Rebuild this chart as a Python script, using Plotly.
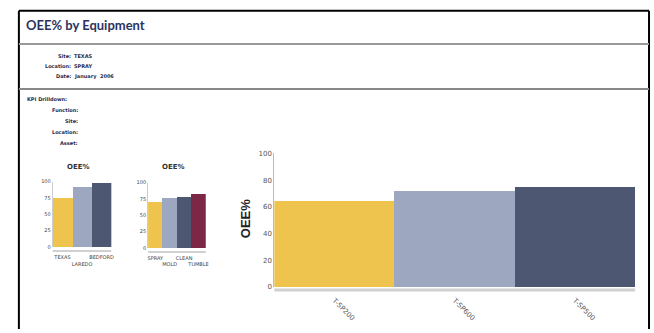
import plotly.graph_objects as go

W, H = 654, 333

# --- data ---
site_categories = ["TEXAS", "LAREDO", "BEDFORD"]
site_oee = [76, 92, 98]

location_categories = ["SPRAY", "MOLD", "CLEAN", "TUMBLE"]
location_oee = [71, 77, 78, 83]

equipment = ["T-SP200", "T-SP600", "T-SP500"]
equipment_oee = [64, 71.5, 74.5]

main_ticks = [0, 20, 40, 60, 80, 100]
small_ticks = [0, 25, 50, 75, 100]

header_labels = ["Site:", "Location:", "Date:"]
header_values = ["TEXAS", "SPRAY", "January  2006"]
drill_labels = ["Function:", "Site:", "Location:", "Asset:"]

YELLOW, LIGHT, DARK, MAROON = "#EEC44E", "#9DA7C0", "#4E5772", "#7C2745"
NAVY = "#2B3461"


def px(x):
    return x / W


def py(y):
    return 1 - y / H


def stagger(cats):
    # every second label drops one line, as in the reference
    return [c if i % 2 == 0 else "<br>" + c for i, c in enumerate(cats)]


fig = go.Figure()

fig.add_trace(go.Bar(x=site_categories, y=site_oee, marker=dict(color=[YELLOW, LIGHT, DARK], line_width=0),
                     xaxis="x2", yaxis="y2", showlegend=False))
fig.add_trace(go.Bar(x=location_categories, y=location_oee,
                     marker=dict(color=[YELLOW, LIGHT, DARK, MAROON], line_width=0),
                     xaxis="x3", yaxis="y3", showlegend=False))
fig.add_trace(go.Bar(x=equipment, y=equipment_oee, marker=dict(color=[YELLOW, LIGHT, DARK], line_width=0),
                     xaxis="x", yaxis="y", showlegend=False))

tick_font_main = dict(family="Verdana, DejaVu Sans", size=7, color="#555")
tick_font_small = dict(family="Verdana, DejaVu Sans", size=5, color="#444")

fig.update_layout(
    width=W, height=H, margin=dict(l=0, r=0, t=0, b=0),
    paper_bgcolor="white", plot_bgcolor="white", bargap=0,
    xaxis=dict(domain=[px(275), px(638)], showgrid=False, tickangle=45, tickfont=tick_font_main,
               ticks="", zeroline=False, ticklabelstandoff=7),
    yaxis=dict(domain=[py(290), py(153)], range=[0, 100], tickvals=main_ticks, showgrid=False,
               showline=True, linecolor="#bbb", linewidth=1, ticks="", tickfont=tick_font_main, zeroline=False),
    xaxis2=dict(domain=[px(52), px(111)], anchor="y2", showgrid=False, ticks="", tickfont=tick_font_small,
                tickvals=site_categories, ticktext=stagger(site_categories), tickangle=0, ticklabelstandoff=6),
    yaxis2=dict(domain=[py(249), py(182)], anchor="x2", range=[0, 100], tickvals=small_ticks, showgrid=False,
                showline=True, linecolor="#ccc", linewidth=1, ticks="", tickfont=tick_font_small, zeroline=False),
    xaxis3=dict(domain=[px(148), px(206)], anchor="y3", showgrid=False, ticks="", tickfont=tick_font_small,
                tickvals=location_categories, ticktext=stagger(location_categories), tickangle=0,
                ticklabelstandoff=6),
    yaxis3=dict(domain=[py(250), py(183)], anchor="x3", range=[0, 100], tickvals=small_ticks, showgrid=False,
                showline=True, linecolor="#ccc", linewidth=1, ticks="", tickfont=tick_font_small, zeroline=False),
)

shapes = [
    # outer frame
    dict(type="line", x0=px(18), x1=px(652), y0=py(7), y1=py(7), line=dict(color="black", width=2)),
    dict(type="line", x0=px(18), x1=px(18), y0=py(7), y1=py(333), line=dict(color="black", width=2)),
    dict(type="line", x0=px(652), x1=px(652), y0=py(7), y1=py(333), line=dict(color="black", width=2)),
    # header rules
    dict(type="line", x0=px(18), x1=px(652), y0=py(41), y1=py(41), line=dict(color="#999", width=2)),
    dict(type="line", x0=px(18), x1=px(652), y0=py(87), y1=py(87), line=dict(color="#888", width=2)),
    # baselines
    dict(type="line", x0=px(275), x1=px(638), y0=py(293), y1=py(293), line=dict(color="#d0d0d0", width=3)),
    dict(type="line", x0=px(52), x1=px(111), y0=py(253), y1=py(253), line=dict(color="#d0d0d0", width=2)),
    dict(type="line", x0=px(148), x1=px(206), y0=py(254), y1=py(254), line=dict(color="#d0d0d0", width=2)),
]
for s in shapes:
    s.update(xref="paper", yref="paper")
fig.update_layout(shapes=shapes)

small_font = dict(family="Verdana, DejaVu Sans", size=5, color="#2a2a4a")


def note(x, y, text, anchor="left", font=None, **kw):
    fig.add_annotation(x=px(x), y=py(y), xref="paper", yref="paper", text=text, showarrow=False,
                       xanchor=anchor, yanchor="middle", font=font or small_font, borderpad=0, **kw)


note(24, 22, "<b>OEE% by Equipment</b>", font=dict(family="Lato, Open Sans", size=13, color=NAVY))

for yy, lab, val in zip([53, 64, 74], header_labels, header_values):
    note(71, yy, "<b>" + lab + "</b>", anchor="right")
    note(72, yy, "<b>" + val + "</b>")

note(25, 97, "<b>KPI Drilldown:</b>")
for yy, lab in zip([109, 120, 131, 142], drill_labels):
    note(78, yy, "<b>" + lab + "</b>", anchor="right")

title_font = dict(family="Verdana, DejaVu Sans", size=7, color="#333")
note(78, 167, "<b>OEE%</b>", anchor="center", font=title_font)
note(174, 167, "<b>OEE%</b>", anchor="center", font=title_font)

note(246, 220, "<b>OEE%</b>", anchor="center",
     font=dict(family="Arial, Liberation Sans", size=13, color="#222"), textangle=-90)

fig.write_html("out.html", config={"displayModeBar": False},
               post_script="document.body.style.margin='0';document.body.style.padding='0';")
